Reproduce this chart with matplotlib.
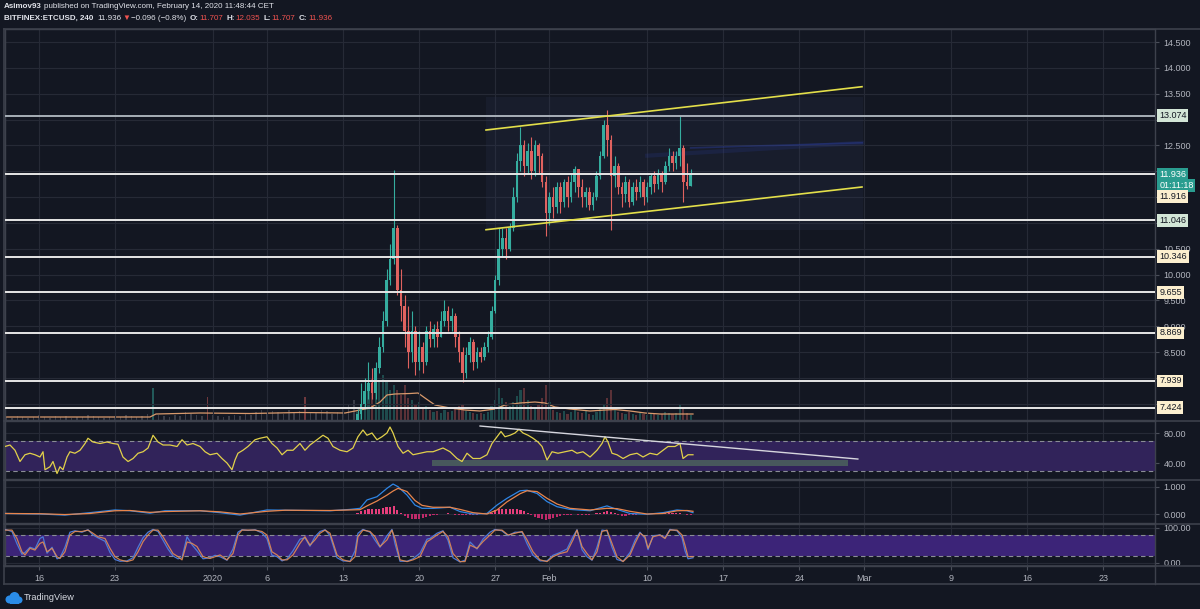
import numpy as np
import pandas as pd
import matplotlib
matplotlib.use("Agg")
import matplotlib.pyplot as plt
from matplotlib.lines import Line2D
from matplotlib.patches import Rectangle, Circle

plt.rcParams['font.family'] = ['Liberation Sans', 'DejaVu Sans']

W, H = 1200, 609
BG = '#131722'
GRID = '#262a36'
SEP = '#3d414c'
TXT = '#b2b5be'
UP = '#35ad9f'
DN = '#e0625f'

# time axis = days since 2019-12-16
ORIGIN = pd.Timestamp('2019-12-16')
XMIN, XMAX = -3.13, 102.76

# ---------------- data ----------------
# 8h candles (only the part inside the price window)
candle_start = '2020-01-14 08:00'
first_open = 7.05
closes = [7.30, 7.50, 7.75, 7.90, 7.70, 8.20, 8.60, 9.10, 9.90, 10.30,
          10.90, 9.70, 9.40, 8.90, 8.50, 8.90, 8.30, 8.60, 8.30, 8.90,
          8.75, 8.95, 8.80, 9.10, 9.30, 9.10, 9.20, 8.80, 8.50, 8.10,
          8.45, 8.70, 8.30, 8.50, 8.40, 8.60, 8.80, 9.30, 9.90, 10.50,
          10.70, 10.50, 10.90, 11.50, 12.20, 12.50, 12.10, 12.40, 12.00, 12.50,
          12.30, 11.80, 11.20, 11.50, 11.30, 11.70, 11.40, 11.80, 11.50, 11.80,
          12.05, 11.70, 11.50, 11.60, 11.35, 11.50, 11.90, 12.30, 12.90, 12.60,
          11.90, 12.10, 11.70, 11.55, 11.80, 11.40, 11.70, 11.60, 11.80, 11.50,
          11.70, 11.90, 11.75, 11.95, 11.80, 12.10, 12.30, 12.15, 12.30, 12.45,
          11.80, 11.707, 11.936]
highs = [7.40, 7.90, 8.00, 8.30, 8.20, 8.30, 8.80, 9.30, 10.10, 10.60,
         12.02, 10.95, 10.10, 9.60, 9.40, 9.30, 9.00, 8.90, 8.70, 9.00,
         9.10, 9.05, 9.10, 9.30, 9.50, 9.40, 9.35, 9.25, 8.90, 8.60,
         8.60, 8.80, 8.75, 8.60, 8.60, 8.70, 8.90, 9.40, 10.00, 10.90,
         10.90, 10.90, 11.00, 11.70, 12.35, 12.86, 12.60, 12.55, 12.66, 12.60,
         12.55, 12.35, 11.90, 11.60, 11.70, 11.80, 11.80, 11.85, 11.90, 11.95,
         12.10, 12.05, 11.85, 11.70, 11.70, 11.60, 12.00, 12.40, 13.00, 13.18,
         12.70, 12.30, 12.15, 11.80, 11.90, 11.85, 11.80, 11.85, 11.90, 11.85,
         11.80, 11.95, 12.00, 12.05, 12.00, 12.20, 12.45, 12.40, 12.40, 13.09,
         12.50, 12.15, 12.035]
lows = [7.00, 7.20, 7.40, 7.60, 7.60, 7.60, 8.10, 8.50, 9.00, 9.80,
        10.20, 9.60, 9.10, 8.60, 8.20, 8.30, 8.05, 8.15, 8.10, 8.25,
        8.60, 8.60, 8.60, 8.80, 9.00, 8.90, 8.90, 8.60, 8.30, 7.92,
        8.00, 8.30, 8.15, 8.20, 8.30, 8.35, 8.50, 8.75, 9.25, 9.80,
        10.35, 10.30, 10.45, 10.85, 11.40, 12.00, 11.90, 11.95, 11.85, 11.90,
        11.95, 11.70, 10.75, 10.95, 11.10, 11.20, 11.20, 11.30, 11.30, 11.40,
        11.60, 11.50, 11.30, 11.30, 11.25, 11.25, 11.45, 11.85, 12.25, 12.30,
        10.86, 11.70, 11.55, 11.30, 11.40, 11.30, 11.35, 11.45, 11.50, 11.35,
        11.40, 11.55, 11.60, 11.65, 11.60, 11.75, 12.00, 12.00, 12.05, 12.10,
        11.40, 11.65, 11.707]
volumes = [8, 12, 20, 30, 42, 35, 40, 45, 38, 30,
           35, 30, 25, 35, 22, 20, 15, 18, 12, 14,
           10, 8, 9, 7, 10, 8, 9, 12, 14, 16,
           9, 8, 7, 6, 7, 6, 8, 14, 20, 32,
           22, 18, 14, 18, 24, 30, 32, 20, 14, 12,
           16, 22, 35, 18, 10, 8, 7, 9, 6, 8,
           10, 8, 7, 9, 6, 5, 8, 12, 16, 22,
           30, 12, 8, 7, 6, 8, 6, 5, 7, 6,
           5, 6, 7, 5, 6, 8, 7, 6, 7, 15,
           12, 7, 5]
macd_hist = [0.03, 0.10, 0.15, 0.18, 0.19, 0.18, 0.20, 0.22, 0.25, 0.27,
             0.28, 0.15, 0.02, -0.08, -0.14, -0.18, -0.20, -0.19, -0.15, -0.12,
             -0.08, -0.04, -0.02, 0.00, 0.01, 0.02, 0.01, -0.02, -0.04, -0.05,
             -0.04, -0.03, -0.03, -0.02, -0.01, 0.00, 0.02, 0.05, 0.15, 0.18,
             0.20, 0.20, 0.18, 0.17, 0.18, 0.15, 0.10, 0.03, -0.04, -0.10,
             -0.15, -0.20, -0.22, -0.18, -0.15, -0.12, -0.08, -0.05, -0.03, -0.02,
             -0.01, -0.02, -0.03, -0.03, -0.02, 0.00, 0.02, 0.04, 0.08, 0.10,
             0.06, 0.02, -0.03, -0.06, -0.07, -0.05, -0.03, -0.02, -0.01, -0.01,
             0.00, 0.01, 0.02, 0.02, 0.03, 0.04, 0.04, 0.03, 0.03, 0.02,
             -0.01, -0.03, -0.05]

# volume before the candles come into view, 12h bars
early_vol_start = '2019-12-13 00:00'
early_vol = [3, 2, 4, 3, 2, 3, 5, 3, 2, 4,
             3, 4, 2, 3, 3, 5, 4, 3, 2, 3,
             4, 3, 5, 4, 3, 4, 6, 32, 5, 4,
             3, 5, 4, 8, 6, 5, 4, 23, 5, 4,
             3, 4, 5, 4, 6, 5, 8, 10, 7, 9,
             8, 6, 10, 7, 9, 23, 8, 7, 10, 9,
             6, 8, 12, 15, 20]
early_vol_side = {27: 'up', 37: 'down', 55: 'down'}

vol_ma = [(-3.13, 3), (10.22, 3), (10.77, 6), (14.83, 7), (19.43, 6.5), (24.03, 7.5),
          (28.18, 7), (29.10, 9), (30.48, 12), (31.40, 18), (32.04, 25), (32.78, 26),
          (34.16, 26.5), (34.90, 27), (35.54, 22), (36.46, 15), (37.85, 12), (39.23, 10),
          (40.61, 9), (41.99, 11), (42.91, 15), (44.29, 17), (45.67, 18), (46.59, 17),
          (47.51, 13), (48.90, 11), (50.74, 9), (52.12, 10), (53.04, 10.5), (54.42, 9),
          (55.80, 7), (57.18, 6), (58.56, 6), (60.22, 6)]

rsi = [(-3.13, 62), (-2.67, 64), (-2.21, 57), (-1.75, 42), (-1.29, 51), (-0.83, 53),
       (-0.37, 51), (0.09, 48), (0.37, 55), (0.55, 31), (1.01, 35), (1.29, 42),
       (1.66, 26), (1.93, 35), (2.21, 31), (2.58, 48), (2.85, 55), (3.31, 53),
       (3.78, 57), (4.24, 66), (4.51, 73), (4.97, 68), (5.62, 66), (6.26, 68),
       (6.81, 66), (7.27, 65), (7.73, 48), (8.20, 42), (8.66, 46), (9.12, 53),
       (9.58, 55), (10.04, 60), (10.50, 77), (10.96, 68), (11.42, 64), (12.06, 64),
       (12.71, 62), (13.17, 71), (13.63, 64), (14.18, 66), (14.83, 62), (15.29, 55),
       (15.75, 51), (16.39, 53), (16.85, 46), (17.31, 40), (17.77, 31), (18.05, 44),
       (18.32, 53), (18.78, 57), (19.24, 62), (19.89, 71), (20.35, 73), (20.99, 75),
       (21.45, 66), (21.92, 60), (22.38, 51), (22.84, 57), (23.39, 57), (24.03, 66),
       (24.49, 57), (24.95, 64), (25.60, 71), (26.15, 77), (26.61, 73), (27.07, 62),
       (27.72, 57), (28.36, 55), (28.91, 60), (29.37, 75), (29.83, 84), (30.20, 77),
       (30.66, 80), (31.12, 71), (31.58, 75), (32.04, 80), (32.32, 88), (32.60, 80),
       (33.06, 62), (33.52, 53), (33.98, 57), (34.44, 51), (35.08, 53), (35.73, 55),
       (36.28, 55), (36.65, 57), (37.20, 60), (37.85, 55), (38.49, 46), (38.95, 42),
       (39.41, 53), (39.96, 46), (40.61, 46), (41.25, 51), (41.71, 66), (42.17, 75),
       (42.54, 82), (42.91, 75), (43.37, 77), (43.83, 80), (44.20, 85), (44.57, 80),
       (45.03, 77), (45.49, 73), (45.95, 68), (46.32, 62), (46.78, 44), (47.24, 55),
       (47.79, 53), (48.43, 55), (49.08, 57), (49.54, 53), (50.09, 55), (50.74, 48),
       (51.38, 57), (51.84, 66), (52.12, 75), (52.39, 68), (52.76, 53), (53.22, 51),
       (53.78, 46), (54.42, 51), (55.06, 53), (55.62, 48), (56.26, 53), (56.91, 51),
       (57.46, 57), (57.92, 62), (58.56, 62), (59.02, 66), (59.30, 46), (59.76, 51),
       (60.22, 51)]

# (day, macd, signal)
macd = [(-3.13, 0.02, 0.02), (0.09, 0.00, 0.01), (2.39, -0.04, -0.02), (4.70, 0.05, 0.02),
        (7.00, 0.15, 0.12), (8.38, 0.12, 0.13), (10.22, 0.03, 0.06), (11.60, 0.12, 0.09),
        (14.83, 0.12, 0.12), (16.67, 0.05, 0.08), (18.51, -0.04, 0.00), (20.99, 0.15, 0.10),
        (22.65, 0.14, 0.14), (26.80, 0.12, 0.13), (28.64, 0.17, 0.15), (29.56, 0.21, 0.16),
        (30.20, 0.52, 0.30), (31.12, 0.64, 0.48), (32.04, 0.95, 0.70), (32.60, 1.11, 0.85),
        (33.06, 1.01, 0.95), (33.89, 0.70, 0.83), (34.62, 0.33, 0.50), (35.27, 0.21, 0.32),
        (36.28, 0.21, 0.25), (37.85, 0.25, 0.25), (38.77, 0.09, 0.17), (39.96, 0.00, 0.05),
        (41.25, 0.02, 0.00), (42.17, 0.33, 0.15), (43.09, 0.58, 0.45), (44.29, 0.86, 0.75),
        (44.94, 0.88, 0.86), (45.86, 0.76, 0.83), (46.78, 0.46, 0.58), (47.70, 0.27, 0.37),
        (48.90, 0.17, 0.21), (50.74, 0.12, 0.15), (52.30, 0.30, 0.21), (53.22, 0.17, 0.20),
        (54.42, 0.02, 0.10), (55.99, -0.01, 0.00), (57.46, 0.05, 0.02), (58.75, 0.15, 0.12),
        (59.67, 0.12, 0.13), (60.22, 0.05, 0.10)]

# (day, %K, %D)
stoch = [(-3.13, 96, 94), (-2.49, 90, 94), (-2.03, 55, 70), (-1.57, 25, 32), (-1.29, 30, 23),
         (-0.83, 45, 42), (-0.37, 40, 37), (0.09, 70, 56), (0.37, 75, 60), (0.74, 28, 32),
         (1.20, 45, 42), (1.66, 12, 18), (1.93, 15, 13), (2.39, 45, 32), (2.85, 88, 80),
         (3.31, 92, 90), (3.96, 88, 90), (4.51, 95, 94), (4.97, 80, 85), (5.43, 72, 75),
         (6.08, 62, 70), (6.54, 30, 42), (7.00, 10, 18), (7.46, 5, 9), (8.10, 6, 4),
         (8.66, 15, 9), (9.12, 45, 32), (9.58, 72, 61), (10.04, 88, 80), (10.50, 96, 94),
         (10.96, 90, 94), (11.42, 65, 75), (11.88, 40, 51), (12.34, 20, 27), (12.80, 12, 18),
         (13.17, 15, 9), (13.63, 75, 60), (14.09, 52, 56), (14.55, 35, 47), (15.10, 12, 18),
         (15.75, 15, 13), (16.21, 22, 18), (16.67, 18, 23), (17.31, 8, 9), (17.86, 40, 27),
         (18.32, 88, 80), (18.69, 95, 94), (19.24, 93, 94), (19.89, 95, 94), (20.53, 86, 90),
         (20.99, 70, 80), (21.45, 22, 32), (21.92, 18, 23), (22.38, 6, 9), (22.84, 12, 9),
         (23.39, 35, 23), (24.03, 68, 56), (24.49, 72, 75), (24.95, 48, 51), (25.41, 75, 66),
         (25.87, 90, 85), (26.34, 95, 94), (26.80, 78, 85), (27.44, 15, 23), (27.99, 6, 9),
         (28.64, 5, 4), (29.10, 35, 18), (29.37, 85, 75), (29.83, 96, 94), (30.48, 88, 90),
         (30.94, 65, 75), (31.40, 45, 47), (32.04, 78, 66), (32.50, 96, 94), (32.78, 55, 70),
         (33.24, 5, 9), (33.89, 5, 4), (34.44, 12, 9), (35.08, 28, 18), (35.73, 68, 61),
         (36.00, 70, 66), (36.65, 85, 80), (37.20, 92, 90), (37.66, 65, 75), (38.12, 15, 27),
         (38.77, 3, 4), (39.23, 8, 4), (39.69, 60, 51), (40.33, 40, 42), (40.88, 68, 61),
         (41.53, 88, 80), (41.99, 96, 94), (42.63, 92, 94), (43.19, 78, 80), (43.83, 88, 85),
         (44.48, 88, 90), (44.94, 55, 66), (45.49, 22, 32), (46.13, 6, 9), (46.78, 6, 4),
         (47.33, 22, 18), (47.97, 30, 27), (48.62, 40, 32), (49.17, 75, 66), (49.54, 95, 94),
         (50.00, 38, 47), (50.46, 18, 27), (50.92, 8, 9), (51.38, 45, 32), (51.84, 94, 90),
         (52.30, 92, 94), (52.76, 45, 56), (53.22, 10, 18), (53.78, 5, 4), (54.42, 30, 23),
         (54.88, 65, 56), (55.34, 88, 85), (55.80, 70, 75), (56.08, 38, 42), (56.54, 78, 75),
         (57.18, 80, 80), (57.64, 72, 70), (58.10, 96, 94), (58.75, 92, 94), (59.21, 72, 80),
         (59.48, 35, 51), (59.76, 12, 18), (60.22, 15, 18)]

# drawings
level_vals = [13.074, 11.936, 11.046, 10.346, 9.655, 8.869, 7.939, 7.424]
level_kind = ['sr', 'last', 'sr', 'alert', 'alert', 'alert', 'alert', 'alert']
alert_label = 11.916
countdown = '01:11:18'
channel_days = [41.16, 75.78]
channel_top = [12.797, 13.635]
channel_bot = [10.867, 11.694]
box_days = [41.16, 75.85]
box_prices = [10.86, 13.44]
rsi_trend_days = [40.61, 75.40]
rsi_trend_vals = [89.3, 45.3]
rsi_zone_days = [36.19, 74.50]
rsi_zone_vals = [36, 44]

price_ticks = [7.5, 8.0, 8.5, 9.0, 9.5, 10.0, 10.5, 11.0, 11.5, 12.0, 12.5, 13.0, 13.5, 14.0, 14.5]
tick_dates = ['2019-12-16', '2019-12-23', '2020-01-01', '2020-01-06', '2020-01-13',
              '2020-01-20', '2020-01-27', '2020-02-01', '2020-02-10', '2020-02-17',
              '2020-02-24', '2020-03-01', '2020-03-09', '2020-03-16', '2020-03-23']
tick_labels = ['16', '23', '2020', '6', '13', '20', '27', 'Feb', '10', '17', '24', 'Mar', '9', '16', '23']


def to_days(ts):
    return np.asarray((pd.DatetimeIndex(ts) - ORIGIN) / pd.Timedelta(days=1), dtype=float)


tick_days = to_days(tick_dates)
cdays = to_days(pd.date_range(candle_start, periods=len(closes), freq='8h'))
edays = to_days(pd.date_range(early_vol_start, periods=len(early_vol), freq='12h'))
c = np.array(closes)
o = np.array([first_open] + closes[:-1])
hi = np.array(highs)
lo = np.array(lows)
up = c >= o

fig = plt.figure(figsize=(W / 100, H / 100), dpi=100, facecolor=BG)


def pane(y0, y1):
    ax = fig.add_axes([5 / W, 1 - y1 / H, 1150 / W, (y1 - y0) / H])
    ax.set_facecolor(BG)
    for s in ax.spines.values():
        s.set_color(SEP)
        s.set_linewidth(1)
    ax.set_xlim(XMIN, XMAX)
    ax.set_xticks(tick_days)
    ax.grid(True, color=GRID, lw=0.8)
    ax.set_axisbelow(True)
    return ax


def right_ticks(ax):
    ax.yaxis.tick_right()
    ax.tick_params(axis='y', labelcolor=TXT, color='#4a4e59', labelsize=6.5, length=3, pad=3,
                   left=False, labelleft=False, right=True, labelright=True)
    ax.tick_params(axis='x', length=0, labelbottom=False)


# ---------------- price pane ----------------
ax = pane(29, 420)
vax = ax.twinx()
right_ticks(ax)
ax.set_ylim(7.184, 14.752)

# tag positions on the price scale (the 11.916 tag sits two rows under the last price)
tag_pos = level_vals + [11.936 - 22 / 51.67]
ax.set_yticks(price_ticks)
ax.set_yticklabels(['' if min(abs(p - t) for t in tag_pos) < 0.1 else f'{p:.3f}'
                    for p in price_ticks])
ax.set_zorder(2)
ax.patch.set_alpha(0)

vax.set_zorder(1)
vax.set_ylim(0, 391)
vax.axis('off')
ecol = ['#6a6d78' if k not in early_vol_side else (UP if early_vol_side[k] == 'up' else DN)
        for k in range(len(early_vol))]
vax.bar(edays, early_vol, width=0.14, color=ecol, alpha=0.45, linewidth=0)
vax.bar(cdays, volumes, width=0.2, color=np.where(up, UP, DN), alpha=0.35, linewidth=0)
vm_d, vm_v = zip(*vol_ma)
vax.plot(vm_d, vm_v, color='#d99a6c', lw=0.9)

ax.add_patch(Rectangle((box_days[0], box_prices[0]), box_days[1] - box_days[0],
                       box_prices[1] - box_prices[0], fc='#2b3454', ec='none', alpha=0.22, zorder=1))
ax.plot([56.0, 75.8], [12.3, 12.55], color='#2b3fa8', lw=3, alpha=0.18, zorder=1.5)
ax.plot([60.0, 75.8], [12.45, 12.55], color='#2f45b8', lw=1.2, alpha=0.35, zorder=1.5)

ccol = np.where(up, UP, DN)
ax.vlines(cdays, lo, hi, colors=ccol, lw=0.8, zorder=4)
body = np.maximum(np.abs(c - o), 0.03)
ax.bar(cdays, body, bottom=np.minimum(o, c), width=0.24, color=ccol, linewidth=0, zorder=5)

for v, kind in zip(level_vals, level_kind):
    ax.axhline(v, color='#a8b0b8' if v == 13.074 else '#e6e6e6', lw=1.4, zorder=6)

ax.plot(channel_days, channel_top, color='#e3df4a', lw=1.2, zorder=7)
ax.plot(channel_days, channel_bot, color='#e3df4a', lw=1.2, zorder=7)

label_style = {'sr': ('#d3e6d7', '#131722'), 'alert': ('#fcefcf', '#131722'),
               'last': ('#2a9d90', '#ffffff')}


def price_tag(val, text, kind, dy=0.0):
    fc, tc = label_style[kind]
    ax.annotate(text, xy=(1, val), xycoords=ax.get_yaxis_transform(),
                xytext=(3, dy), textcoords='offset points', ha='left', va='center',
                fontsize=6.5, color=tc, annotation_clip=False, zorder=30,
                bbox=dict(boxstyle='square,pad=0.2', fc=fc, ec='none'))


for v, kind in zip(level_vals, level_kind):
    price_tag(v, f'{v:.3f}', kind)
price_tag(11.936, countdown, 'last', dy=-7.9)
price_tag(11.936, f'{alert_label:.3f}', 'alert', dy=-15.8)

# ---------------- RSI ----------------
ax_r = pane(421, 479)
right_ticks(ax_r)
ax_r.set_ylim(18.67, 96)
ax_r.set_yticks([40, 80])
ax_r.set_yticklabels(['40.00', '80.00'])
ax_r.axhspan(30, 70, color='#31235a', lw=0, zorder=0.6)
for v in (30, 70):
    ax_r.axhline(v, color='#8a8d96', lw=0.8, ls=(0, (4, 3)), zorder=1)
ax_r.add_patch(Rectangle((rsi_zone_days[0], rsi_zone_vals[0]), rsi_zone_days[1] - rsi_zone_days[0],
                         rsi_zone_vals[1] - rsi_zone_vals[0], fc='#4b625d', ec='none', alpha=0.85, zorder=2))
r_d, r_v = zip(*rsi)
ax_r.plot(r_d, r_v, color='#e2d14a', lw=0.9, zorder=4)
ax_r.plot(rsi_trend_days, rsi_trend_vals, color='#d6d6de', lw=1.0, zorder=5)

# ---------------- MACD ----------------
ax_m = pane(480, 523)
right_ticks(ax_m)
ax_m.set_ylim(-0.333, 1.259)
ax_m.set_yticks([0, 1])
ax_m.set_yticklabels(['0.000', '1.000'])
hist = np.array(macd_hist)
ax_m.bar(cdays, hist, width=0.2, color=np.where(hist >= 0, '#e83e7c', '#c02a6a'), linewidth=0, zorder=2)
m_d, m_line, m_sig = zip(*macd)
ax_m.plot(m_d, m_line, color='#2f86e6', lw=0.9, zorder=3)
ax_m.plot(m_d, m_sig, color='#e8854c', lw=0.9, zorder=3)

# ---------------- Stoch RSI ----------------
ax_s = pane(524, 566)
right_ticks(ax_s)
ax_s.set_ylim(-8.57, 111.4)
ax_s.set_yticks([0, 100])
ax_s.set_yticklabels(['0.00', '100.00'])
ax_s.axhspan(20, 80, color='#3c2478', lw=0, zorder=0.6)
for v in (20, 80):
    ax_s.axhline(v, color='#8a8d96', lw=0.8, ls=(0, (4, 3)), zorder=1)
s_d, s_k, s_dd = zip(*stoch)
ax_s.plot(s_d, s_k, color='#4c7ad8', lw=0.9, zorder=3)
ax_s.plot(s_d, s_dd, color='#e08a55', lw=0.9, alpha=0.9, zorder=3)
ax_s.tick_params(axis='x', labelbottom=True, length=3, color='#4a4e59',
                 labelcolor=TXT, labelsize=6.5, pad=3)
ax_s.set_xticklabels(tick_labels)

# ---------------- frame lines ----------------
def fline(x0, y0, x1, y1, lw=1.0):
    fig.add_artist(Line2D([x0 / W, x1 / W], [1 - y0 / H, 1 - y1 / H], color=SEP, lw=lw))


for yy in (29, 420.5, 479.5, 523.5, 566, 584):
    fline(4, yy, W, yy, 1.2)
fline(4, 29, 4, 584, 1.2)
fline(1155, 566, 1155, 584, 1.0)

# ---------------- header ----------------
rend = fig.canvas.get_renderer()


def segments(x, y, parts, size=5.8):
    for txt, col, bold, gap in parts:
        t = fig.text(x / W, 1 - y / H, txt, color=col, fontsize=size,
                     fontweight='bold' if bold else 'normal', ha='left', va='center')
        x += t.get_window_extent(renderer=rend).width + gap


WHITE = '#e1e3ea'
RED = '#ef5350'
segments(4, 7, [('Asimov93', WHITE, True, 2.5),
                ('published on TradingView.com, February 14, 2020 11:48:44 CET', WHITE, False, 0)])
segments(4, 18, [('BITFINEX:ETCUSD, 240', WHITE, True, 4),
                 ('11.936', WHITE, False, 0.5), ('\u25bc', RED, False, 1.5),
                 ('\u22120.096 (\u22120.8%)', WHITE, False, 3),
                 ('O:', WHITE, True, 1), ('11.707', RED, False, 3),
                 ('H:', WHITE, True, 1), ('12.035', RED, False, 3),
                 ('L:', WHITE, True, 1), ('11.707', RED, False, 3),
                 ('C:', WHITE, True, 1), ('11.936', RED, False, 0)])

# ---------------- TradingView logo ----------------
lax = fig.add_axes([4 / W, 1 - 605 / H, 19 / W, 15 / H])
lax.set_xlim(0, 19)
lax.set_ylim(0, 15)
lax.set_aspect('equal')
lax.axis('off')
for cx, cy, r in ((5.5, 5.5, 4.0), (10.5, 8.0, 5.0), (15.0, 5.0, 3.5)):
    lax.add_patch(Circle((cx, cy), r, color='#2a8ce8', lw=0))
lax.add_patch(Rectangle((5.5, 1.5), 9.5, 4, color='#2a8ce8', lw=0))
fig.text(24 / W, 1 - 597 / H, 'TradingView', color='#d8dbe2', fontsize=6.6, ha='left', va='center')

fig.savefig('out.png', dpi=100, facecolor=BG)
